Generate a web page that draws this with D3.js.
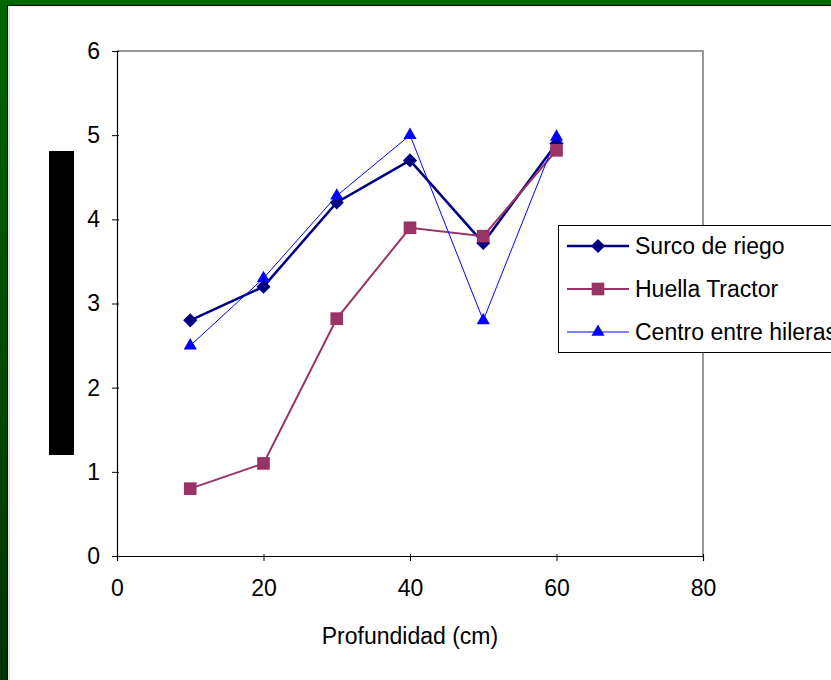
<!DOCTYPE html>
<html><head><meta charset="utf-8">
<script src="https://cdn.jsdelivr.net/npm/d3@7/dist/d3.min.js"></script>
<style>html,body{margin:0;padding:0;background:#fff;}svg{display:block;}</style>
</head><body>
<script>
const depths = [10, 20, 30, 40, 50, 60];
const surcoDeRiego = [2.8, 3.2, 4.2, 4.7, 3.72, 4.9];
const huellaTractor = [0.8, 1.1, 2.82, 3.9, 3.8, 4.82];
const centroEntreHileras = [2.5, 3.3, 4.28, 5.0, 2.8, 4.98];
const seriesNames = ["Surco de riego", "Huella Tractor", "Centro entre hileras"];
const xTicks = [0, 20, 40, 60, 80];
const yTicks = [0, 1, 2, 3, 4, 5, 6];
const xTitle = "Profundidad (cm)";

const W = 831, H = 680;
const svg = d3.select("body").append("svg").attr("width", W).attr("height", H);
const defs = svg.append("defs");
const gLeft = defs.append("linearGradient").attr("id","gl").attr("x1",0).attr("y1",0).attr("x2",0).attr("y2",1);
gLeft.append("stop").attr("offset","0%").attr("stop-color","#006600");
gLeft.append("stop").attr("offset","100%").attr("stop-color","#003300");

svg.append("rect").attr("x",0).attr("y",0).attr("width",W).attr("height",H).attr("fill","#fff");
svg.append("rect").attr("x",0).attr("y",0).attr("width",W).attr("height",5).attr("fill","#006600");
svg.append("rect").attr("x",0).attr("y",0).attr("width",7).attr("height",H).attr("fill","url(#gl)");
svg.append("line").attr("x1",7).attr("x2",W).attr("y1",5.5).attr("y2",5.5).attr("stroke","#000").attr("stroke-width",1);
svg.append("line").attr("x1",7.5).attr("x2",7.5).attr("y1",5).attr("y2",H).attr("stroke","#000").attr("stroke-width",1);
svg.append("line").attr("x1",9).attr("x2",9).attr("y1",6).attr("y2",H).attr("stroke","#c8c8c8").attr("stroke-width",1);

const x = d3.scaleLinear().domain([0, 80]).range([117, 703]);
const y = d3.scaleLinear().domain([0, 6]).range([556, 51]);

svg.append("path").attr("d", `M${x(0)},${y(6)}H${x(80)}V${y(0)}`).attr("fill","none").attr("stroke","#999").attr("stroke-width",2);

const font = "'Liberation Sans', Arial, sans-serif";
const yAxis = svg.append("g").attr("transform",`translate(${x(0)},0)`)
  .call(d3.axisLeft(y).tickValues(yTicks).tickSize(5).tickPadding(12).tickFormat(d3.format("d")));
const xAxis = svg.append("g").attr("transform",`translate(0,${y(0)})`)
  .call(d3.axisBottom(x).tickValues(xTicks).tickSize(5).tickPadding(19).tickFormat(d3.format("d")));
[xAxis, yAxis].forEach(a => {
  a.attr("font-family",font).attr("font-size",23);
  a.select(".domain").attr("stroke","#000").attr("stroke-width",1.2);
  a.selectAll(".tick line").attr("stroke","#000");
  a.selectAll("text").attr("fill","#000");
});
xAxis.selectAll(".tick line").attr("y1",-2).attr("y2",5);
yAxis.selectAll(".tick line").attr("x1",2);

svg.append("text").attr("x",(x(0)+x(80))/2).attr("y",644).attr("text-anchor","middle")
  .attr("font-family",font).attr("font-size",23).attr("fill","#000").text(xTitle);

svg.append("rect").attr("x",49).attr("y",151).attr("width",25).attr("height",304).attr("fill","#000");

const diamond = d3.symbolSquare;
const series = [
  {name: seriesNames[0], vals: surcoDeRiego, color: "#000080", width: 2.5, sym: d3.symbolSquare, size: 100, rot: 45},
  {name: seriesNames[1], vals: huellaTractor, color: "#993366", width: 2, sym: d3.symbolSquare, size: 160, rot: 0},
  {name: seriesNames[2], vals: centroEntreHileras, color: "#0000FF", width: 1, sym: d3.symbolTriangle, size: 75, rot: 0}
];
const line = d3.line().x((d,i)=>x(depths[i])).y(d=>y(d));
series.forEach(s => {
  svg.append("path").datum(s.vals).attr("d", line).attr("fill","none").attr("stroke",s.color).attr("stroke-width",s.width);
});
series.forEach(s => {
  svg.append("g").selectAll("path").data(s.vals).join("path")
    .attr("d", d3.symbol().type(s.sym).size(s.size))
    .attr("transform",(d,i)=>`translate(${x(depths[i])},${y(d)}) rotate(${s.rot})`)
    .attr("fill",s.color);
});

const lg = svg.append("g");
lg.append("rect").attr("x",558.5).attr("y",225.5).attr("width",300).attr("height",127).attr("fill","#fff").attr("stroke","#000").attr("stroke-width",1);
series.forEach((s,i) => {
  const cy = 246 + i*43;
  lg.append("line").attr("x1",567).attr("x2",629).attr("y1",cy).attr("y2",cy).attr("stroke",s.color).attr("stroke-width",s.width);
  lg.append("path").attr("d", d3.symbol().type(s.sym).size(s.size)).attr("transform",`translate(598,${cy}) rotate(${s.rot})`).attr("fill",s.color);
  lg.append("text").attr("x",635).attr("y",cy+8).attr("font-family",font).attr("font-size",23).attr("fill","#000").text(s.name);
});
</script>
</body></html>
